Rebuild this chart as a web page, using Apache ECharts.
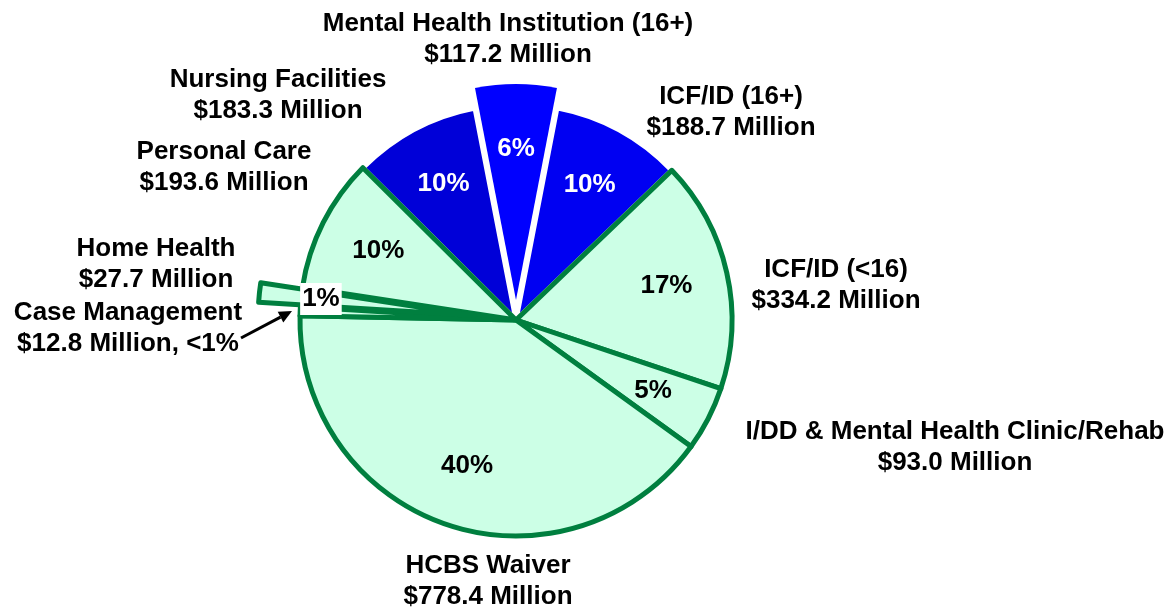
<!DOCTYPE html>
<html>
<head>
<meta charset="utf-8">
<script src="https://cdn.jsdelivr.net/npm/echarts@6/dist/echarts.min.js"></script>
<style>html,body{margin:0;padding:0;background:#fff}#c{width:1173px;height:607px}</style>
</head>
<body>
<div id="c"></div>
<script>
// ---- data (clockwise from top) ----
var categories = ['Mental Health Institution (16+)', 'ICF/ID (16+)', 'ICF/ID (<16)', 'I/DD & Mental Health Clinic/Rehab', 'HCBS Waiver', 'Case Management', 'Home Health', 'Personal Care', 'Nursing Facilities'];
var valuesMillions = [117.2, 188.7, 334.2, 93.0, 778.4, 12.8, 27.7, 193.6, 183.3];
var percentLabels = ['6%', '10%', '17%', '5%', '40%', '', '1%', '10%', '10%'];
var valueLabels = ['$117.2 Million', '$188.7 Million', '$334.2 Million', '$93.0 Million', '$778.4 Million', '$12.8 Million, <1%', '$27.7 Million', '$193.6 Million', '$183.3 Million'];
var groups = ['blue', 'blue', 'green', 'green', 'green', 'green', 'hh', 'green', 'blue'];

// ---- styling / layout ----
var CX = 516, CY = 320, R = 216, START = 100.95;
var FONT = '"Liberation Sans", Arial, sans-serif';
var GREEN_FILL = '#CCFFE6', GREEN_LINE = '#007F3F';
var blueColors = {0: '#0000FF', 1: '#0000F2', 8: '#0000D8'};
var labelPos = [[508, 39], [731, 112], [836, 285], [955, 447], [488, 581], [128, 328], [156, 264], [224, 167], [278, 95]];

var HIDE = {color: 'rgba(0,0,0,0)', borderWidth: 0};

function baseSeries(extra) {
  var s = {
    type: 'pie', center: [CX, CY], radius: [0, R], startAngle: START, clockwise: true,
    silent: true, avoidLabelOverlap: false, selectedMode: 'multiple',
    label: {show: false}, labelLine: {show: false},
    emphasis: {disabled: true}
  };
  for (var k in extra) s[k] = extra[k];
  return s;
}

var blueData = categories.map(function (n, i) {
  var d = {name: n, value: valuesMillions[i]};
  if (groups[i] === 'blue') {
    d.itemStyle = {color: blueColors[i], borderWidth: i === 0 ? 0 : 5, borderColor: '#fff'};
    if (i === 0) d.selected = true;
  } else d.itemStyle = HIDE;
  return d;
});
var greenData = categories.map(function (n, i) {
  return {name: n, value: valuesMillions[i],
    itemStyle: groups[i] === 'green' ? {color: GREEN_FILL, borderColor: GREEN_LINE, borderWidth: 5, borderJoin: 'round'} : HIDE};
});
var hhData = categories.map(function (n, i) {
  var d = {name: n, value: valuesMillions[i]};
  if (groups[i] === 'hh') {
    d.itemStyle = {color: GREEN_FILL, borderColor: GREEN_LINE, borderWidth: 5, borderJoin: 'round'};
    d.selected = true;
  } else d.itemStyle = HIDE;
  return d;
});
var pctData = categories.map(function (n, i) {
  var d = {name: n, value: valuesMillions[i], itemStyle: HIDE,
    label: {show: groups[i] !== 'hh' && percentLabels[i] !== '', color: groups[i] === 'blue' ? '#fff' : '#000'}};
  if (i === 0) d.selected = true;
  return d;
});
var hhLabelData = categories.map(function (n, i) {
  var d = {name: n, value: valuesMillions[i], itemStyle: HIDE, label: {show: groups[i] === 'hh'}};
  if (groups[i] === 'hh') d.selected = true;
  return d;
});
var nameData = categories.map(function (n, i) {
  return {name: n, value: valuesMillions[i], itemStyle: HIDE};
});

var chart = echarts.init(document.getElementById('c'), null, {renderer: 'canvas'});

// arrow for Case Management
var a0 = [241, 338], a1 = [292, 311];
var dx = a1[0] - a0[0], dy = a1[1] - a0[1], L = Math.sqrt(dx * dx + dy * dy);
var ux = dx / L, uy = dy / L, AL = 13, AW = 6;
var bx = a1[0] - ux * AL, by = a1[1] - uy * AL;

chart.setOption({
  animation: false,
  backgroundColor: '#fff',
  series: [
    baseSeries({name: 'blue', z: 1, selectedOffset: 20, data: blueData}),
    baseSeries({name: 'green', z: 2, data: greenData}),
    baseSeries({name: 'hh', z: 3, selectedOffset: 42, data: hhData}),
    baseSeries({name: 'pct', z: 4, radius: [R * 0.4, R], selectedOffset: 17, data: pctData,
      label: {show: true, position: 'inside', fontFamily: FONT, fontWeight: 'bold', fontSize: 26,
        formatter: function (p) { return percentLabels[p.dataIndex]; }}}),
    baseSeries({name: 'hhLabel', z: 5, radius: [R * 0.4, R], selectedOffset: 42, data: hhLabelData,
      label: {position: 'inside', fontFamily: FONT, fontWeight: 'bold', fontSize: 26, color: '#000',
        backgroundColor: '#fff', padding: [4, 2, 2, 2],
        formatter: function (p) { return percentLabels[p.dataIndex]; }}}),
    baseSeries({name: 'names', z: 6, data: nameData,
      label: {show: true, position: 'outside', fontFamily: FONT, fontWeight: 'bold', fontSize: 26,
        lineHeight: 31, color: '#000', align: 'center',
        formatter: function (p) { return categories[p.dataIndex] + '\n' + valueLabels[p.dataIndex]; }},
      labelLayout: function (p) {
        var q = labelPos[p.dataIndex];
        return {x: q[0], y: q[1], align: 'center', verticalAlign: 'middle'};
      }})
  ],
  graphic: [
    {type: 'line', z: 100, shape: {x1: a0[0], y1: a0[1], x2: bx, y2: by}, style: {stroke: '#000', lineWidth: 3}},
    {type: 'polygon', z: 100, shape: {points: [[a1[0], a1[1]], [bx + uy * AW, by - ux * AW], [bx - uy * AW, by + ux * AW]]}, style: {fill: '#000'}}
  ]
});
</script>
</body>
</html>
